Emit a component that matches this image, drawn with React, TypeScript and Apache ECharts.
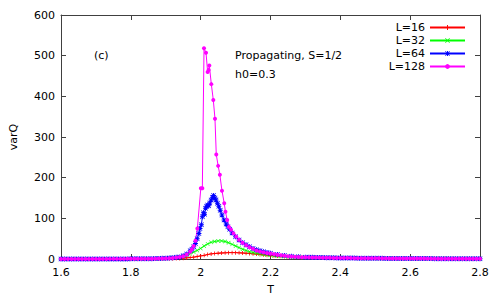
import React, { useEffect, useRef } from "react";
import * as echarts from "echarts";

// Temperatures of the flat tails (shared by all sizes)
const leftT = [1.60, 1.61, 1.62, 1.63, 1.64, 1.65, 1.66, 1.67, 1.68, 1.69, 1.70, 1.71, 1.72, 1.73, 1.74, 1.75, 1.76, 1.77, 1.78, 1.79, 1.80, 1.81, 1.82, 1.83, 1.84, 1.85, 1.86, 1.87, 1.88, 1.89];
const rightT = [2.31, 2.32, 2.33, 2.34, 2.35, 2.36, 2.37, 2.38, 2.39, 2.40, 2.41, 2.42, 2.43, 2.44, 2.45, 2.46, 2.47, 2.48, 2.49, 2.50, 2.51, 2.52, 2.53, 2.54, 2.55, 2.56, 2.57, 2.58, 2.59, 2.60, 2.61, 2.62, 2.63, 2.64, 2.65, 2.66, 2.67, 2.68, 2.69, 2.70, 2.71, 2.72, 2.73, 2.74, 2.75, 2.76, 2.77, 2.78, 2.79, 2.80];
const midGrid = [1.90, 1.91, 1.92, 1.93, 1.94, 1.95, 1.96, 1.97, 1.98, 1.99, 2.00, 2.01, 2.02, 2.03, 2.04, 2.05, 2.06, 2.07, 2.08, 2.09, 2.10, 2.11, 2.12, 2.13, 2.14, 2.15, 2.16, 2.17, 2.18, 2.19, 2.20, 2.21, 2.22, 2.23, 2.24, 2.25, 2.26, 2.27, 2.28, 2.29, 2.30];

// L=16
const l16Left = [0, 0, 0, 0, 0, 0, 0, 0, 0, 0, 0, 0, 0, 0, 0, 0, 0, 0, 0, 0, 0.1, 0.1, 0.1, 0.1, 0.2, 0.2, 0.2, 0.3, 0.3, 0.4];
const l16Mid = [0.5, 0.7, 0.9, 1.1, 1.5, 2, 2.7, 3.5, 4.6, 6, 7.5, 9, 11, 12.5, 13.5, 14.2, 14.8, 15.2, 15.5, 15.6, 15.5, 15.2, 14.8, 14.2, 13.5, 12.7, 12, 11, 10.2, 9.4, 8.6, 7.9, 7.2, 6.7, 6.2, 5.7, 5.3, 5, 4.6, 4.3, 4.1];
const l16Right = [3.9, 3.7, 3.5, 3.4, 3.2, 3.1, 3.0, 2.9, 2.8, 2.7, 2.6, 2.5, 2.4, 2.3, 2.3, 2.2, 2.1, 2.0, 2.0, 1.9, 1.8, 1.8, 1.7, 1.7, 1.6, 1.6, 1.5, 1.5, 1.4, 1.4, 1.3, 1.3, 1.3, 1.2, 1.2, 1.1, 1.1, 1.1, 1.0, 1.0, 1.0, 0.9, 0.9, 0.9, 0.9, 0.8, 0.8, 0.8, 0.8, 0.7];

// L=32
const l32Left = [0.1, 0.1, 0.1, 0.1, 0.1, 0.1, 0.1, 0.1, 0.1, 0.1, 0.1, 0.1, 0.1, 0.2, 0.2, 0.2, 0.2, 0.3, 0.3, 0.3, 0.4, 0.4, 0.5, 0.5, 0.6, 0.7, 0.8, 1.0, 1.2, 1.5];
const l32Mid = [2, 2.5, 3, 4, 5, 7, 9, 13, 17, 21, 26, 32, 37, 41, 43, 44.5, 44.5, 43, 40, 36, 32, 28, 24, 21, 18, 16, 14, 12.5, 11, 10, 9, 8, 7.2, 6.6, 6, 5.5, 5.1, 4.7, 4.4, 4.1, 3.9];
const l32Right = [3.7, 3.5, 3.3, 3.2, 3.0, 2.9, 2.8, 2.7, 2.6, 2.5, 2.4, 2.3, 2.2, 2.2, 2.1, 2.0, 2.0, 1.9, 1.8, 1.8, 1.7, 1.7, 1.6, 1.6, 1.5, 1.5, 1.4, 1.4, 1.4, 1.3, 1.3, 1.2, 1.2, 1.2, 1.1, 1.1, 1.1, 1.0, 1.0, 1.0, 1.0, 0.9, 0.9, 0.9, 0.9, 0.8, 0.8, 0.8, 0.8, 0.8];

// L=64
const l64Left = [0.1, 0.1, 0.1, 0.1, 0.1, 0.1, 0.1, 0.1, 0.1, 0.1, 0.1, 0.1, 0.1, 0.2, 0.2, 0.2, 0.2, 0.3, 0.3, 0.3, 0.4, 0.4, 0.5, 0.6, 0.7, 0.8, 0.9, 1.1, 1.3, 1.6];
const l64MidT = [1.90, 1.91, 1.92, 1.93, 1.94, 1.95, 1.96, 1.97, 1.975, 1.980, 1.985, 1.990, 1.995, 1.998, 2.002, 2.005, 2.008, 2.011, 2.014, 2.017, 2.020, 2.023, 2.026, 2.030, 2.034, 2.037, 2.041, 2.044, 2.048, 2.052, 2.056, 2.061, 2.067, 2.073, 2.078, 2.083, 2.09, 2.10, 2.11, 2.12, 2.13, 2.14, 2.15, 2.16, 2.17, 2.18, 2.19, 2.20, 2.22, 2.24, 2.26, 2.28, 2.30];
const l64Mid = [2, 2.5, 3, 4, 5, 8, 12, 20, 24, 30, 38, 50, 63, 75, 84, 104, 114, 110, 125, 130, 133, 131, 138, 145, 152, 156, 150, 145, 137, 130, 120, 108, 96, 86, 79, 73, 64, 55, 47, 40, 35, 30, 26, 23, 20, 18, 16, 14, 11, 8.5, 6.8, 5.5, 4.5];
const l64Right = [4.3, 4.0, 3.8, 3.6, 3.4, 3.2, 3.0, 2.9, 2.7, 2.6, 2.5, 2.4, 2.3, 2.2, 2.1, 2.0, 1.9, 1.9, 1.8, 1.7, 1.7, 1.6, 1.5, 1.5, 1.4, 1.4, 1.3, 1.3, 1.2, 1.2, 1.1, 1.1, 1.1, 1.0, 1.0, 1.0, 0.9, 0.9, 0.9, 0.8, 0.8, 0.8, 0.8, 0.7, 0.7, 0.7, 0.7, 0.6, 0.6, 0.6];

// L=128
const l128Left = [0.2, 0.2, 0.2, 0.2, 0.2, 0.2, 0.2, 0.2, 0.2, 0.2, 0.2, 0.2, 0.2, 0.2, 0.3, 0.3, 0.3, 0.3, 0.3, 0.4, 0.4, 0.4, 0.5, 0.5, 0.6, 0.7, 0.8, 0.9, 1.0, 1.2];
const l128MidT = [1.90, 1.91, 1.92, 1.93, 1.94, 1.95, 1.96, 1.97, 1.975, 1.980, 1.985, 1.9905, 2.0005, 2.0048, 2.0096, 2.0153, 2.020, 2.0228, 2.0248, 2.0305, 2.0362, 2.041, 2.0447, 2.050, 2.055, 2.061, 2.0675, 2.071, 2.076, 2.081, 2.087, 2.094, 2.102, 2.11, 2.12, 2.13, 2.14, 2.15, 2.16, 2.17, 2.18, 2.19, 2.20, 2.21, 2.22, 2.23, 2.24, 2.25, 2.26, 2.27, 2.28, 2.29, 2.30];
const l128Mid = [1.5, 2, 2.5, 3.5, 5, 7, 11, 18, 24, 32, 45, 75, 174, 174, 518, 507, 460, 465, 476, 430, 391, 345, 257, 229, 207, 168, 137, 116, 96, 79, 72, 63, 55, 47, 40, 34, 29, 25, 21, 18.5, 16.5, 15, 13.5, 12, 10.5, 9, 8, 7, 6.2, 5.5, 5, 4.5, 4.2];
const l128Right = [4.0, 3.8, 3.6, 3.4, 3.2, 3.0, 2.9, 2.7, 2.6, 2.5, 2.4, 2.3, 2.2, 2.1, 2.0, 1.9, 1.9, 1.8, 1.7, 1.7, 1.6, 1.5, 1.5, 1.4, 1.4, 1.3, 1.3, 1.2, 1.2, 1.1, 1.1, 1.1, 1.0, 1.0, 0.9, 0.9, 0.9, 0.8, 0.8, 0.8, 0.7, 0.7, 0.7, 0.7, 0.6, 0.6, 0.6, 0.6, 0.5, 0.5];

const xTicks = { min: 1.6, max: 2.8, step: 0.2 };
const yTicks = { min: 0, max: 600, step: 100 };

const seriesNames = ["L=16", "L=32", "L=64", "L=128"];
const seriesColors = ["#ff0000", "#00ff00", "#0000ff", "#ff00ff"];

const plusPath = "path://M4,0L6,0L6,4L10,4L10,6L6,6L6,10L4,10L4,6L0,6L0,4L4,4Z";
const crossPath = "path://M1,0L5,4L9,0L10,1L6,5L10,9L9,10L5,6L1,10L0,9L4,5L0,1Z";
const starPath = "path://M4,0L6,0L6,4L10,4L10,6L6,6L6,10L4,10L4,6L0,6L0,4L4,4ZM1,0L5,4L9,0L10,1L6,5L10,9L9,10L5,6L1,10L0,9L4,5L0,1Z";

function build(leftVals: number[], midT: number[], midV: number[], rightVals: number[]) {
  const out: number[][] = [];
  leftT.forEach((t, i) => out.push([t, leftVals[i]]));
  midT.forEach((t, i) => out.push([t, midV[i]]));
  rightT.forEach((t, i) => out.push([t, rightVals[i]]));
  return out;
}

const FONT = "DejaVu Sans";

export default function App() {
  const ref = useRef<HTMLDivElement>(null);
  useEffect(() => {
    if (!ref.current) return;
    const chart = echarts.init(ref.current, null, { renderer: "svg" });
    const datasets = [
      build(l16Left, midGrid, l16Mid, l16Right),
      build(l32Left, midGrid, l32Mid, l32Right),
      build(l64Left, l64MidT, l64Mid, l64Right),
      build(l128Left, l128MidT, l128Mid, l128Right),
    ];
    const symbols = [plusPath, crossPath, starPath, "circle"];
    const sizes = [4, 4, 5, 4];
    const axisColor = "#404040";
    const baseAxis = {
      axisLine: { show: true, onZero: false, lineStyle: { color: axisColor, width: 1 } },
      axisTick: { show: true, inside: true, length: 5, lineStyle: { color: axisColor } },
      splitLine: { show: false },
    };
    chart.setOption({
      animation: false,
      backgroundColor: "#ffffff",
      textStyle: { fontFamily: FONT },
      grid: { left: 59, right: 20, top: 15, bottom: 41, containLabel: false },
      legend: {
        orient: "vertical",
        align: "right",
        right: 34,
        top: 22,
        padding: 0,
        itemGap: 2,
        itemWidth: 35,
        itemHeight: 6,
        data: seriesNames,
        textStyle: { fontFamily: FONT, fontSize: 11, color: "#000", lineHeight: 11 },
      },
      xAxis: [
        {
          type: "value",
          min: xTicks.min,
          max: xTicks.max,
          interval: xTicks.step,
          position: "bottom",
          name: "T",
          nameLocation: "middle",
          nameGap: 25,
          nameTextStyle: { fontFamily: FONT, fontSize: 11, color: "#000" },
          axisLabel: { fontFamily: FONT, fontSize: 11, color: "#000", margin: 8 },
          ...baseAxis,
        },
        {
          type: "value",
          min: xTicks.min,
          max: xTicks.max,
          interval: xTicks.step,
          position: "top",
          axisLabel: { show: false },
          ...baseAxis,
        },
      ],
      yAxis: [
        {
          type: "value",
          min: yTicks.min,
          max: yTicks.max,
          interval: yTicks.step,
          position: "left",
          name: "varQ",
          nameLocation: "middle",
          nameRotate: 90,
          nameGap: 42,
          nameTextStyle: { fontFamily: FONT, fontSize: 11, color: "#000" },
          axisLabel: { fontFamily: FONT, fontSize: 11, color: "#000", margin: 6 },
          ...baseAxis,
        },
        {
          type: "value",
          min: yTicks.min,
          max: yTicks.max,
          interval: yTicks.step,
          position: "right",
          axisLabel: { show: false },
          ...baseAxis,
        },
      ],
      graphic: [
        { type: "text", left: 94, top: 50, style: { text: "(c)", font: `11px '${FONT}'`, fill: "#000" } },
        { type: "text", left: 235, top: 50, style: { text: "Propagating, S=1/2", font: `11px '${FONT}'`, fill: "#000" } },
        { type: "text", left: 235, top: 69, style: { text: "h0=0.3", font: `11px '${FONT}'`, fill: "#000" } },
      ],
      series: seriesNames.map((name, i) => ({
        name,
        type: "line",
        data: datasets[i],
        symbol: symbols[i],
        symbolSize: sizes[i],
        showAllSymbol: true,
        lineStyle: { width: 1, color: seriesColors[i] },
        itemStyle: { color: seriesColors[i] },
        emphasis: { disabled: true },
      })),
    });
    return () => chart.dispose();
  }, []);
  return (
    <div
      ref={ref}
      style={{ position: "absolute", left: 0, top: 0, width: 500, height: 300, background: "#fff" }}
    />
  );
}
